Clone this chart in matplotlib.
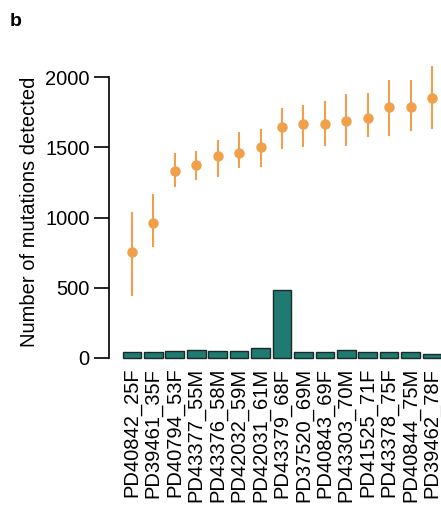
import matplotlib.pyplot as plt

plt.rcParams['font.family'] = ['Liberation Sans', 'DejaVu Sans']

samples = ["PD40842_25F", "PD39461_35F", "PD40794_53F", "PD43377_55M",
           "PD43376_58M", "PD42032_59M", "PD42031_61M", "PD43379_68F",
           "PD37520_69M", "PD40843_69F", "PD43303_70M", "PD41525_71F",
           "PD43378_75F", "PD40844_75M", "PD39462_78F"]
muts = [757, 963, 1333, 1376, 1438, 1459, 1502, 1644, 1663, 1663,
        1687, 1706, 1789, 1789, 1853]
err_lo = [443, 788, 1215, 1267, 1286, 1352, 1362, 1488, 1504, 1509,
          1511, 1575, 1582, 1618, 1632]
err_hi = [1041, 1167, 1457, 1475, 1552, 1606, 1628, 1781, 1801, 1829,
          1877, 1884, 1979, 1979, 2081]
bars = [45, 45, 52, 57, 50, 50, 74, 484, 43, 43, 59, 40, 45, 40, 28]

orange = "#F0A04B"
teal = "#1F7A72"

fig = plt.figure(figsize=(4.41, 5.07), dpi=100)
ax = fig.add_axes([109/441, 1 - 360.8/507, 1 - 109/441, (360.8 - 63)/507])

x = list(range(len(samples)))
ax.bar(x, bars, width=0.87, color=teal, edgecolor="#1a2a28", linewidth=1.0)
yerr = [[m - l for m, l in zip(muts, err_lo)], [h - m for m, h in zip(muts, err_hi)]]
ax.errorbar(x, muts, yerr=yerr, fmt='o', color=orange, ms=6.5, elinewidth=1.5,
            capsize=0, clip_on=False)

ax.set_xlim(-1.07, 14.42)
ax.set_ylim(-20, 2100)
ax.spines['left'].set_bounds(0, 2000)
for s in ['top', 'right', 'bottom']:
    ax.spines[s].set_visible(False)
ax.set_yticks([0, 500, 1000, 1500, 2000])
ax.tick_params(axis='y', labelsize=14.5, length=11, width=1.2, pad=3)
ax.spines['left'].set_linewidth(1.2)
ax.set_xticks(x)
ax.set_xticklabels(samples, rotation=90, fontsize=14.5)
ax.tick_params(axis='x', length=0, pad=5)
ax.set_ylabel("Number of mutations detected", fontsize=14.5, labelpad=4)

fig.text(10/441, 1 - 22/507, "b", fontsize=14, fontweight='bold', va='center')

fig.savefig("out.png", dpi=100)
